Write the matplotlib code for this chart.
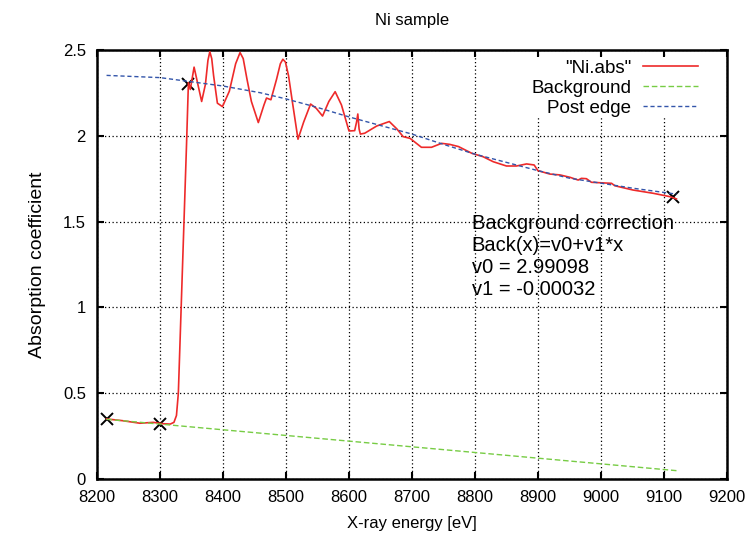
import matplotlib
matplotlib.use("Agg")
import matplotlib.pyplot as plt
from matplotlib.patches import Rectangle
import numpy as np

plt.rcParams['font.family'] = ['Liberation Sans', 'DejaVu Sans']

energy = [8215, 8240, 8268, 8289, 8305, 8316, 8322, 8326, 8329, 8342, 8345,
          8348, 8354, 8360, 8366, 8372, 8376, 8379, 8382, 8385, 8391, 8399, 8410, 8420, 8427,
          8432, 8438, 8445, 8456, 8465, 8469, 8476, 8485, 8491, 8495, 8499, 8504, 8510, 8519, 8528,
          8539, 8548, 8558, 8568, 8578, 8588, 8600, 8609, 8612, 8614, 8616, 8618,
          8625, 8644, 8664, 8676, 8686, 8697, 8715, 8731, 8747, 8760, 8774, 8795,
          8813, 8829, 8850, 8866, 8882, 8894, 8900, 8919, 8935, 8951, 8964, 8969,
          8977, 8985, 9017, 9022, 9051, 9083, 9110, 9120]
absorb = [0.350, 0.340, 0.325, 0.330, 0.322, 0.320, 0.330, 0.370, 0.50, 1.95, 2.31,
          2.27, 2.40, 2.30, 2.20, 2.30, 2.44, 2.49, 2.45, 2.35, 2.19, 2.17, 2.26, 2.42, 2.485,
          2.45, 2.33, 2.20, 2.077, 2.18, 2.22, 2.21, 2.33, 2.42, 2.446, 2.43, 2.35, 2.20, 1.98, 2.08,
          2.185, 2.16, 2.115, 2.20, 2.257, 2.18, 2.028, 2.03, 2.08, 2.127, 2.04, 2.01,
          2.015, 2.057, 2.083, 2.04, 1.995, 1.985, 1.933, 1.933, 1.956, 1.95, 1.937, 1.898,
          1.878, 1.849, 1.824, 1.824, 1.836, 1.83, 1.797, 1.777, 1.772, 1.758, 1.742, 1.752,
          1.75, 1.729, 1.723, 1.709, 1.684, 1.665, 1.645, 1.632]

# linear background
bg_x = [8215, 9122]
bg_y = [0.348, 0.048]

# post edge curve
post_x = [8215, 8300, 8400, 8459, 8500, 8550, 8600, 8650, 8700, 8750, 8800,
          8850, 8900, 8950, 9000, 9050, 9120]
post_y = [2.352, 2.339, 2.29, 2.251, 2.215, 2.165, 2.11, 2.06, 2.01, 1.95, 1.893,
          1.845, 1.797, 1.753, 1.724, 1.695, 1.66]

# selected points
mark_x = [8215, 8300, 8345, 9115]
mark_y = [0.35, 0.32, 2.30, 1.646]

xticks = list(range(8200, 9201, 100))
yticks = [0, 0.5, 1, 1.5, 2, 2.5]
ylabels = ["0", "0.5", "1", "1.5", "2", "2.5"]

fig = plt.figure(figsize=(7.47, 5.41), dpi=100)
ax = fig.add_axes([0.130, 0.1146, 0.843, 0.793])

ax.grid(True, color='black', linestyle=(0, (1, 2)), linewidth=0.9)
# white box behind the key, hides the grid there
ax.add_patch(Rectangle((0.64, 0.844), 0.355, 0.138, transform=ax.transAxes,
                       facecolor='white', edgecolor='none', zorder=1.8))

ax.plot(mark_x, mark_y, linestyle='none', marker='x', color='black',
        markersize=9, markeredgewidth=1.4, zorder=2.5)
ax.plot(energy, absorb, color='#ee2a2a', linewidth=1.2, label='"Ni.abs"', zorder=3)
ax.plot(bg_x, bg_y, color='#77cc44', linewidth=1.0, linestyle=(0, (4, 2)),
        label='Background', zorder=3)
ax.plot(post_x, post_y, color='#3355aa', linewidth=1.0, linestyle=(0, (3, 2)),
        label='Post edge', zorder=3)

ax.text(8795, 1.545, "Background correction\nBack(x)=v0+v1*x\nv0 = 2.99098\nv1 = -0.00032",
        fontsize=14.5, va='top', ha='left', linespacing=1.2)

ax.set_xlim(8200, 9200)
ax.set_ylim(0, 2.5)
ax.set_xticks(xticks)
ax.set_yticks(yticks)
ax.set_yticklabels(ylabels)
ax.tick_params(direction='in', length=5, width=1.5, top=True, right=True,
               labelsize=12, pad=8)
for s in ax.spines.values():
    s.set_linewidth(1.8)

ax.set_xlabel("X-ray energy [eV]", fontsize=12, labelpad=8)
ax.set_ylabel("Absorption coefficient", fontsize=14, labelpad=12)
ax.set_title("Ni sample", fontsize=12, pad=18)

ax.legend(loc='upper right', bbox_to_anchor=(0.954, 0.978), frameon=False,
          markerfirst=False, fontsize=13.5, handlelength=2.9, handletextpad=0.65,
          labelspacing=0.16, borderpad=0, borderaxespad=0)

fig.savefig("out.png", dpi=100)
